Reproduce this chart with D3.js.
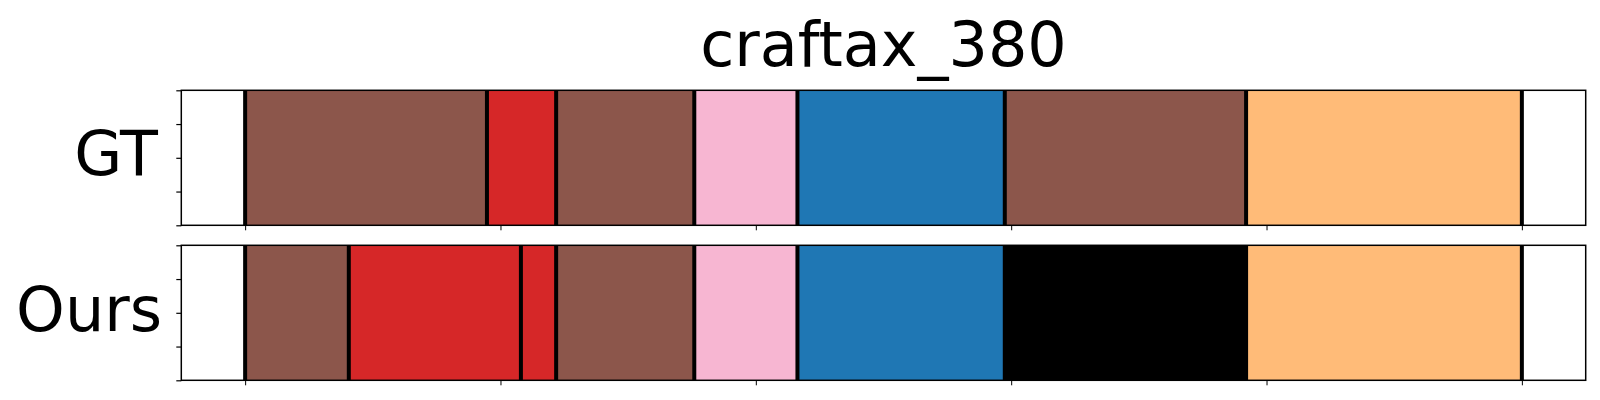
<!DOCTYPE html>
<html>
<head>
<meta charset="utf-8">
<script src="https://cdn.jsdelivr.net/npm/d3@7"></script>
<style>
  html, body { margin: 0; padding: 0; background: #fff; }
  svg { display: block; }
  text { font-family: "DejaVu Sans", sans-serif; fill: #000; }
</style>
</head>
<body>
<svg id="chart" width="1600" height="400"></svg>
<script>
// ---- data ----
const title = "craftax_380";
const rowLabels = ["GT", "Ours"];
const xTicks = [0, 1, 2, 3, 4, 5];
const yTicks = [0, 0.25, 0.5, 0.75, 1];
const gtBounds = [0, 0.947, 1.218, 1.759, 2.163, 2.975, 3.920, 5.0];
const gtClasses = ["brown", "red", "brown", "pink", "blue", "brown", "orange"];
const oursBounds = [0, 0.406, 1.080, 1.218, 1.759, 2.163, 2.975, 3.920, 5.0];
const oursClasses = ["brown", "red", "red", "brown", "pink", "blue", "black", "orange"];
const classColors = {
  brown: "#8c564b", red: "#d62728", pink: "#f7b6d2",
  blue: "#1f77b4", black: "#000000", orange: "#ffbb78"
};

// ---- layout ----
const svg = d3.select("#chart");
const left = 181.3, right = 1585.7;
const panels = [
  { label: rowLabels[0], bounds: gtBounds, classes: gtClasses, top: 90.3, bottom: 225.3, labelX: 158, labelY: 175 },
  { label: rowLabels[1], bounds: oursBounds, classes: oursClasses, top: 245.3, bottom: 380.3, labelX: 162, labelY: 330.5 }
];

const x = d3.scaleLinear().domain([-0.25, 5.25]).range([left, right]);

svg.append("text")
  .attr("x", (left + right) / 2).attr("y", 66)
  .attr("text-anchor", "middle")
  .style("font-size", "62px")
  .text(title);

panels.forEach(p => {
  const y = d3.scaleLinear().domain([0, 1]).range([p.bottom, p.top]);
  const g = svg.append("g");
  const segs = p.classes.map((c, i) => ({ c, x0: p.bounds[i], x1: p.bounds[i + 1] }));
  g.selectAll("rect.seg").data(segs).enter().append("rect")
    .attr("class", "seg")
    .attr("x", d => x(d.x0))
    .attr("width", d => x(d.x1) - x(d.x0))
    .attr("y", y(1))
    .attr("height", y(0) - y(1))
    .attr("fill", d => classColors[d.c]);
  g.selectAll("line.bnd").data(p.bounds).enter().append("line")
    .attr("class", "bnd")
    .attr("x1", d => x(d)).attr("x2", d => x(d))
    .attr("y1", y(0)).attr("y2", y(1))
    .attr("stroke", "#000").attr("stroke-width", 4);

  const xAxis = d3.axisBottom(x).tickValues(xTicks).tickFormat("").tickSizeOuter(0).tickSizeInner(5);
  const gx = g.append("g").attr("transform", `translate(0,${p.bottom})`).call(xAxis);
  gx.select(".domain").remove();
  gx.selectAll(".tick line").attr("stroke", "#000").attr("stroke-width", 1);

  const yAxis = d3.axisLeft(y).tickValues(yTicks).tickFormat("").tickSizeOuter(0).tickSizeInner(5);
  const gy = g.append("g").attr("transform", `translate(${left},0)`).call(yAxis);
  gy.select(".domain").remove();
  gy.selectAll(".tick line").attr("stroke", "#000").attr("stroke-width", 1.2);

  g.append("rect")
    .attr("x", left).attr("y", p.top)
    .attr("width", right - left).attr("height", p.bottom - p.top)
    .attr("fill", "none").attr("stroke", "#000").attr("stroke-width", 1.5);

  svg.append("text")
    .attr("x", p.labelX).attr("y", p.labelY)
    .attr("text-anchor", "end")
    .style("font-size", "62px")
    .text(p.label);
});
</script>
</body>
</html>
